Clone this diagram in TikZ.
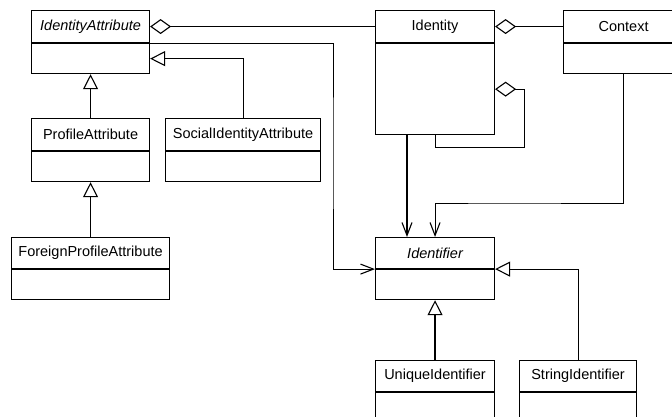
\documentclass[tikz,border=0pt]{standalone}
\usepackage{fontspec}
\setmainfont{Liberation Sans}
\usetikzlibrary{arrows.meta,calc}
\tikzset{
  ttl/.style={draw, line width=1.1pt, anchor=north west, inner sep=0pt, font=\fontsize{14.5}{17}\selectfont},
  bdy/.style={draw, line width=1.1pt, anchor=north west, inner sep=0pt},
  thinln/.style={line width=1pt},
  thickln/.style={line width=1.8pt},
  agg/.style={thinln, {Diamond[open, length=21pt, width=15pt, line width=1.1pt]}-},
  nav/.style={-{Straight Barb[length=13pt, width=10pt, line width=1.1pt]}},
  gen/.style={-{Triangle[open, length=15pt, width=15pt, line width=1.1pt]}},
}
\newcommand\umlcls[7]{%
  \node[ttl, minimum width=#4pt, minimum height=#5pt] (#1t) at (#2,#3) {#7};
  \node[bdy, minimum width=#4pt, minimum height=#6pt] (#1b) at (#1t.south west) {};
}
\begin{document}
\begin{tikzpicture}[x=1pt, y=-1pt]
\useasboundingbox (0,0) rectangle (672,417);
\clip (0,0) rectangle (672,417);
\fill[white] (0,0) rectangle (672,417);
\umlcls{ia}{31}{10}{118}{32}{30}{\itshape IdentityAttribute}
\umlcls{pa}{31}{118}{118}{32}{30}{ProfileAttribute}
\umlcls{sia}{165}{118}{155}{32}{30}{SocialIdentityAttribute}
\umlcls{fpa}{11}{237}{158}{31}{30}{ForeignProfileAttribute}
\umlcls{id}{375}{10}{119}{32}{91}{Identity}
\umlcls{ctx}{563}{10}{120}{32}{30}{Context}
\umlcls{idf}{375}{237}{119}{31}{30}{\itshape Identifier}
\umlcls{ui}{375}{360}{119}{31}{60}{UniqueIdentifier}
\umlcls{si}{519}{360}{117}{31}{60}{StringIdentifier}
\coordinate (j1) at (333,150);
\coordinate (s1) at (524,148);
\coordinate (c2) at (500,203);
% aggregations
\draw[agg] (iat.east) -- (idt.west);
\draw[agg] (idt.east) -- (ctxt.west);
\draw[agg] (idb.east) -| (s1) -| (idb.south);
% navigable associations
\draw[thinln, nav] (iat.south east) -| (j1) |- (idft.south west);
\draw[thickln, nav] ($(idb.south west)+(32,0)$) -- ($(idft.north west)+(32,0)$);
\draw[thinln, nav] (ctxb.south) |- (c2) -| (idft.north);
% generalizations
\draw[thickln, gen] (pat.north) -- (iab.south);
\draw[thinln, gen] (siat.north) |- (iab.east);
\draw[thickln, gen] (fpat.north) -- (pab.south);
\draw[thickln, gen] (uit.north) -- (idfb.south);
\draw[thinln, gen] (sit.north) |- (idft.south east);
\end{tikzpicture}
\end{document}
